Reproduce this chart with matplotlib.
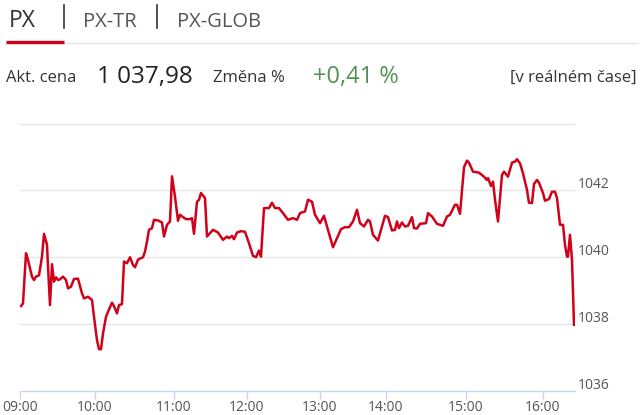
import matplotlib
matplotlib.use("Agg")
import matplotlib.pyplot as plt
from matplotlib.transforms import offset_copy

plt.rcParams['font.family'] = ['Open Sans', 'DejaVu Sans']

# trade sample index (x) and PX value
idx = [1, 3, 6, 8, 12, 14, 16, 19, 22, 24, 27, 28, 30, 32, 34, 36, 38, 40, 43, 46,
       48, 51, 54, 58, 62, 64, 68, 72, 74, 77, 79, 81, 83, 86, 88, 92, 94, 97, 99, 102,
       104, 107, 110, 113, 115, 118, 123, 125, 127, 129, 132, 134, 138, 142, 144, 147, 150, 152, 155, 158,
       160, 163, 166, 170, 172, 174, 177, 179, 181, 185, 187, 193, 198, 203, 207, 209, 212, 214, 217, 221,
       225, 229, 233, 236, 239, 241, 244, 249, 252, 255, 259, 263, 268, 273, 277, 280, 285, 288, 292, 295,
       300, 304, 307, 313, 316, 321, 325, 329, 333, 337, 340, 344, 348, 350, 353, 358, 365, 368, 372, 375,
       377, 379, 382, 385, 388, 392, 394, 397, 400, 406, 408, 412, 417, 423, 427, 430, 435, 437, 440, 444,
       447, 449, 453, 459, 464, 467, 468, 471, 473, 475, 478, 482, 484, 488, 492, 495, 497, 500, 503, 507,
       509, 512, 514, 517, 519, 523, 525, 529, 532, 535, 537, 540, 543, 545, 547, 548, 550, 552, 554]
price = [1038.54, 1038.62, 1040.12, 1039.92, 1039.42, 1039.32, 1039.42, 1039.46, 1040.02, 1040.70,
         1040.37, 1039.72, 1038.57, 1039.79, 1039.27, 1039.40, 1039.32, 1039.34, 1039.42, 1039.32,
         1039.07, 1039.12, 1039.35, 1039.36, 1038.92, 1038.77, 1038.82, 1038.72, 1038.22, 1037.52,
         1037.25, 1037.25, 1037.72, 1038.22, 1038.37, 1038.64, 1038.54, 1038.32, 1038.57, 1038.60,
         1039.87, 1039.82, 1040.00, 1039.77, 1039.70, 1039.93, 1040.00, 1040.17, 1040.47, 1040.82,
         1040.87, 1041.12, 1041.10, 1041.04, 1040.62, 1040.97, 1041.07, 1042.42, 1041.81, 1041.09,
         1041.27, 1041.20, 1041.14, 1041.14, 1041.17, 1040.70, 1041.66, 1041.72, 1041.92, 1041.77,
         1040.62, 1040.82, 1040.74, 1040.52, 1040.62, 1040.57, 1040.64, 1040.54, 1040.74, 1040.78,
         1040.76, 1040.42, 1040.04, 1040.00, 1040.20, 1040.02, 1041.47, 1041.47, 1041.63, 1041.47,
         1041.47, 1041.32, 1041.12, 1041.17, 1041.12, 1041.32, 1041.37, 1041.72, 1041.66, 1041.27,
         1041.02, 1041.24, 1040.92, 1040.30, 1040.50, 1040.84, 1040.90, 1040.90, 1041.07, 1041.42,
         1041.02, 1040.92, 1041.12, 1041.07, 1040.67, 1040.50, 1041.24, 1041.20, 1040.80, 1040.82,
         1041.07, 1040.87, 1041.04, 1040.92, 1040.94, 1041.20, 1040.87, 1040.86, 1041.00, 1041.02,
         1041.32, 1041.22, 1041.00, 1040.94, 1041.22, 1041.27, 1041.57, 1041.57, 1041.30, 1042.69,
         1042.89, 1042.83, 1042.56, 1042.53, 1042.41, 1042.31, 1042.37, 1042.13, 1042.26, 1041.72,
         1041.07, 1042.46, 1042.56, 1042.41, 1042.83, 1042.86, 1042.93, 1042.81, 1042.51, 1042.01,
         1041.63, 1041.62, 1042.19, 1042.31, 1042.23, 1041.92, 1041.69, 1041.74, 1041.96, 1041.96,
         1041.77, 1040.97, 1040.97, 1040.37, 1040.02, 1040.02, 1040.67, 1039.92, 1037.98]

tick_pos = [0, 75, 154, 227, 300, 366, 446, 523]
tick_lab = ['09:00', '10:00', '11:00', '12:00', '13:00', '14:00', '15:00', '16:00']
y_levels = [1036, 1038, 1040, 1042]
tabs = ['PX', 'PX-TR', 'PX-GLOB']

W, H = 640, 415
fig = plt.figure(figsize=(W / 100, H / 100), dpi=100)

def fx(px):
    return px / W

def fy(py):
    return 1 - py / H

# header tabs
fig.text(fx(9), fy(27), tabs[0], fontsize=16.5, color='#333333', va='baseline')
fig.text(fx(83), fy(27), tabs[1], fontsize=14.5, color='#555555', va='baseline')
fig.text(fx(177), fy(27), tabs[2], fontsize=14.5, color='#555555', va='baseline')
fig.add_artist(plt.Line2D([fx(63.5), fx(63.5)], [fy(5), fy(28)], color='#333333', lw=1.2))
fig.add_artist(plt.Line2D([fx(157), fx(157)], [fy(5), fy(28)], color='#333333', lw=1.2))
fig.add_artist(plt.Line2D([fx(6), fx(637)], [fy(43.5), fy(43.5)], color='#e3e3e3', lw=1))
fig.add_artist(plt.Line2D([fx(6), fx(64)], [fy(42), fy(42)], color='#d0021b', lw=2.4,
                          solid_capstyle='butt'))

# quote row
fig.text(fx(6), fy(82), 'Akt. cena', fontsize=12, color='#333333', va='baseline')
fig.text(fx(97), fy(83), '1 037,98', fontsize=17.5, color='#222222', va='baseline')
fig.text(fx(213), fy(82), 'Změna %', fontsize=12, color='#333333', va='baseline')
fig.text(fx(313), fy(83), '+0,41 %', fontsize=17, color='#559155', va='baseline')
fig.text(fx(637), fy(82), '[v reálném čase]', fontsize=12, color='#333333',
         va='baseline', ha='right')

# chart
ax = fig.add_axes([fx(20), fy(391), fx(575) - fx(20), fy(123.5) - fy(391)])
for y in [1038, 1040, 1042, 1044]:
    ax.axhline(y, color='#e6e6e6', lw=1, zorder=1)
ax.plot(idx, price, color='#d0021b', lw=1.8, zorder=3, solid_joinstyle='round')
ax.set_xlim(0, 555)
ax.set_ylim(1036, 1044)

for s in ['top', 'right', 'left']:
    ax.spines[s].set_visible(False)
ax.spines['bottom'].set_color('#ccd6eb')
ax.spines['bottom'].set_linewidth(1)

ax.set_xticks(tick_pos)
ax.set_xticklabels(tick_lab)
ax.tick_params(axis='x', length=6, width=1, color='#ccd6eb', pad=0.5,
               labelsize=10, labelcolor='#555555')
ax.set_yticks([])

lab_tr = offset_copy(ax.get_yaxis_transform(), fig=fig, x=3, y=2.5, units='dots')
for y in y_levels:
    ax.text(1.0, y, str(y), transform=lab_tr, fontsize=10, color='#555555',
            ha='left', va='baseline')

plt.savefig('out.png', dpi=100)
